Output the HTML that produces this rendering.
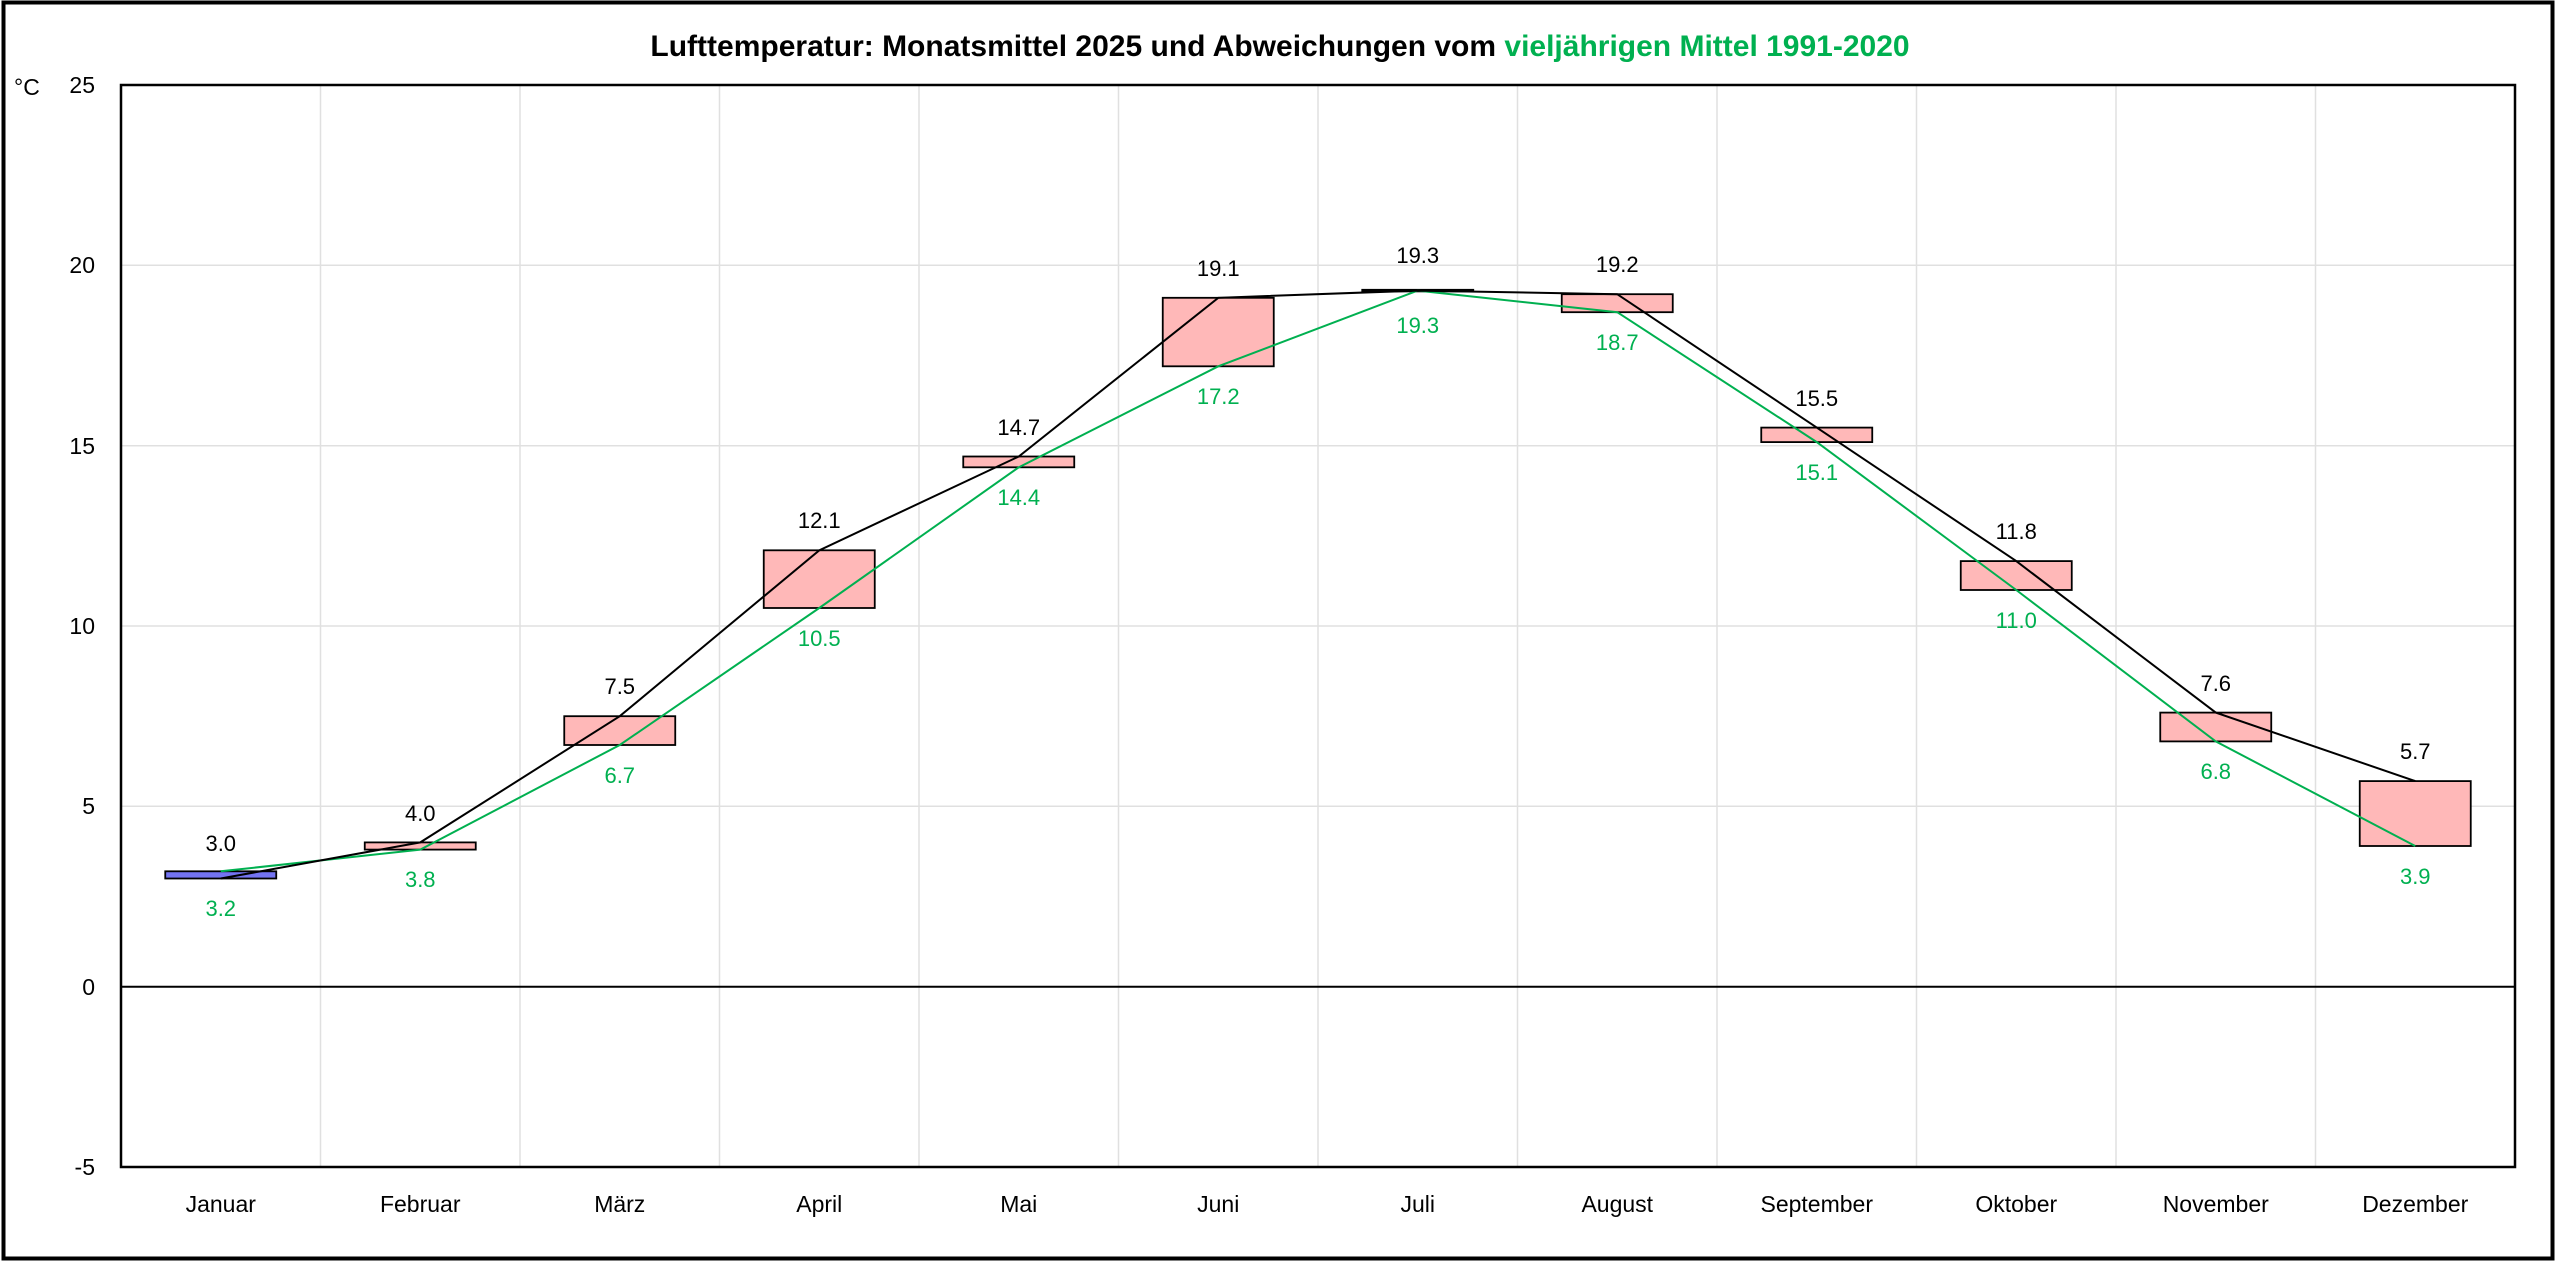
<!DOCTYPE html>
<html><head><meta charset="utf-8"><style>
html,body{margin:0;padding:0;background:#fff}
svg{display:block}
text{font-family:"Liberation Sans",Arial,sans-serif}
</style></head><body>
<svg width="2560" height="1262" viewBox="0 0 2560 1262" xmlns="http://www.w3.org/2000/svg">
<rect x="3.5" y="2.5" width="2549" height="1256" fill="#fff" stroke="#000" stroke-width="4"/>
<text x="1280" y="56" font-size="30" font-weight="bold" text-anchor="middle">Lufttemperatur: Monatsmittel 2025 und Abweichungen vom <tspan fill="#00b050">vieljährigen Mittel 1991-2020</tspan></text>
<g stroke="#e0e0e0" stroke-width="1.5">
<line x1="121" y1="265.3" x2="2515" y2="265.3"/><line x1="121" y1="445.7" x2="2515" y2="445.7"/>
<line x1="121" y1="626" x2="2515" y2="626"/><line x1="121" y1="806.3" x2="2515" y2="806.3"/>
<line x1="320.5" y1="85" x2="320.5" y2="1167"/><line x1="520" y1="85" x2="520" y2="1167"/>
<line x1="719.5" y1="85" x2="719.5" y2="1167"/><line x1="919" y1="85" x2="919" y2="1167"/>
<line x1="1118.5" y1="85" x2="1118.5" y2="1167"/><line x1="1318" y1="85" x2="1318" y2="1167"/>
<line x1="1517.5" y1="85" x2="1517.5" y2="1167"/><line x1="1717" y1="85" x2="1717" y2="1167"/>
<line x1="1916.5" y1="85" x2="1916.5" y2="1167"/><line x1="2116" y1="85" x2="2116" y2="1167"/>
<line x1="2315.5" y1="85" x2="2315.5" y2="1167"/>
</g>
<line x1="121" y1="986.7" x2="2515" y2="986.7" stroke="#000" stroke-width="2"/>
<rect x="121" y="85" width="2394" height="1082" fill="none" stroke="#000" stroke-width="2.5"/>
<g font-size="23" text-anchor="end">
<text x="95" y="93">25</text><text x="95" y="273">20</text><text x="95" y="454">15</text>
<text x="95" y="634">10</text><text x="95" y="814">5</text><text x="95" y="995">0</text><text x="95" y="1175">-5</text>
</g>
<text x="14" y="95" font-size="23">°C</text>
<g font-size="23" text-anchor="middle">
<text x="220.75" y="1212">Januar</text><text x="420.25" y="1212">Februar</text><text x="619.75" y="1212">März</text>
<text x="819.25" y="1212">April</text><text x="1018.75" y="1212">Mai</text><text x="1218.25" y="1212">Juni</text>
<text x="1417.75" y="1212">Juli</text><text x="1617.25" y="1212">August</text><text x="1816.75" y="1212">September</text>
<text x="2016.25" y="1212">Oktober</text><text x="2215.75" y="1212">November</text><text x="2415.25" y="1212">Dezember</text>
</g>
<g stroke="#000" stroke-width="1.8" fill="#ffb8b8">
<rect x="165.25" y="871.3" width="111" height="7.2" fill="#7474f2"/>
<rect x="364.75" y="842.4" width="111" height="7.2"/>
<rect x="564.25" y="716.2" width="111" height="28.8"/>
<rect x="763.75" y="550.3" width="111" height="57.7"/>
<rect x="963.25" y="456.5" width="111" height="10.8"/>
<rect x="1162.75" y="297.8" width="111" height="68.5"/>
<rect x="1362.25" y="289.8" width="111" height="1.6"/>
<rect x="1561.75" y="294.2" width="111" height="18"/>
<rect x="1761.25" y="427.6" width="111" height="14.5"/>
<rect x="1960.75" y="561.1" width="111" height="28.9"/>
<rect x="2160.25" y="712.6" width="111" height="28.8"/>
<rect x="2359.75" y="781.1" width="111" height="64.9"/>
</g>
<polyline fill="none" stroke="#00b050" stroke-width="2" points="220.75,871.3 420.25,849.6 619.75,745 819.25,608 1018.75,467.3 1218.25,366.3 1417.75,290.6 1617.25,312.2 1816.75,442.1 2016.25,590 2215.75,741.4 2415.25,846"/>
<polyline fill="none" stroke="#000" stroke-width="2" points="220.75,878.5 420.25,842.4 619.75,716.2 819.25,550.3 1018.75,456.5 1218.25,297.8 1417.75,290.6 1617.25,294.2 1816.75,427.6 2016.25,561.1 2215.75,712.6 2415.25,781.1"/>
<g font-size="22" text-anchor="middle">
<text x="220.75" y="851">3.0</text><text x="420.25" y="821">4.0</text><text x="619.75" y="694">7.5</text>
<text x="819.25" y="528">12.1</text><text x="1018.75" y="435">14.7</text><text x="1218.25" y="276">19.1</text>
<text x="1417.75" y="263">19.3</text><text x="1617.25" y="272">19.2</text><text x="1816.75" y="406">15.5</text>
<text x="2016.25" y="539">11.8</text><text x="2215.75" y="691">7.6</text><text x="2415.25" y="759">5.7</text>
</g>
<g font-size="22" text-anchor="middle" fill="#00b050">
<text x="220.75" y="916">3.2</text><text x="420.25" y="887">3.8</text><text x="619.75" y="783">6.7</text>
<text x="819.25" y="646">10.5</text><text x="1018.75" y="505">14.4</text><text x="1218.25" y="404">17.2</text>
<text x="1417.75" y="333">19.3</text><text x="1617.25" y="350">18.7</text><text x="1816.75" y="480">15.1</text>
<text x="2016.25" y="628">11.0</text><text x="2215.75" y="779">6.8</text><text x="2415.25" y="884">3.9</text>
</g>
</svg>
</body></html>
